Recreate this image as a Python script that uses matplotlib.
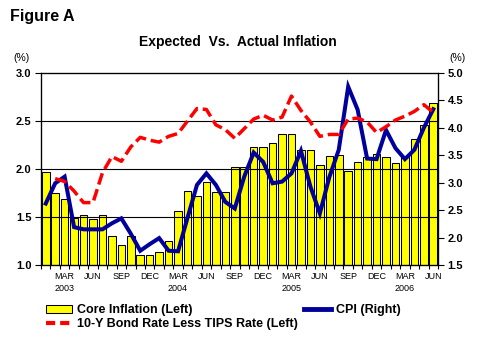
import numpy as np
import matplotlib
matplotlib.use("Agg")
import matplotlib.pyplot as plt
from matplotlib.patches import Patch
from matplotlib.lines import Line2D

plt.rcParams['font.family'] = ['Liberation Sans', 'DejaVu Sans']

# monthly data, Jan 2003 .. Jun 2006
core_inflation = [1.97, 1.75, 1.69, 1.49, 1.52, 1.48, 1.52, 1.30, 1.21, 1.30, 1.10, 1.10,
                  1.14, 1.25, 1.56, 1.77, 1.72, 1.86, 1.76, 1.76, 2.02, 2.02, 2.23, 2.23,
                  2.27, 2.36, 2.36, 2.20, 2.20, 2.04, 2.14, 2.15, 1.98, 2.07, 2.12, 2.16,
                  2.12, 2.06, 2.12, 2.31, 2.46, 2.69]
cpi = [2.62, 2.99, 3.11, 2.19, 2.15, 2.15, 2.15, 2.26, 2.35, 2.07, 1.76, 1.88,
       1.99, 1.76, 1.75, 2.36, 2.96, 3.17, 2.96, 2.65, 2.53, 3.11, 3.55, 3.38,
       2.99, 3.02, 3.17, 3.58, 2.93, 2.44, 3.10, 3.60, 4.75, 4.33, 3.44, 3.43,
       3.96, 3.63, 3.43, 3.60, 4.00, 4.34]
bond_less_tips = [np.nan, 1.90, 1.87, 1.77, 1.65, 1.65, 1.96, 2.13, 2.08, 2.23, 2.33, 2.30,
                  2.28, 2.34, 2.37, 2.50, 2.63, 2.62, 2.46, 2.41, 2.32, 2.42, 2.52, 2.56,
                  2.51, 2.54, 2.76, 2.61, 2.49, 2.34, 2.36, 2.36, 2.52, 2.53, 2.49, 2.38,
                  2.44, 2.51, 2.55, 2.60, 2.67, 2.59]
tick_labels = ['MAR\n2003', 'JUN', 'SEP', 'DEC',
               'MAR\n2004', 'JUN', 'SEP', 'DEC',
               'MAR\n2005', 'JUN', 'SEP', 'DEC',
               'MAR\n2006', 'JUN']
left_ticks = [1.0, 1.5, 2.0, 2.5, 3.0]
right_ticks = [1.5, 2.0, 2.5, 3.0, 3.5, 4.0, 4.5, 5.0]

YELLOW = '#FFFF00'
BLUE = '#00009C'
RED = '#FF0000'

x = np.arange(len(core_inflation))

fig = plt.figure(figsize=(4.8, 3.6), dpi=100)
ax = fig.add_axes([41/480, 1 - 265/360, 397/480, 192/360])

# bars (left axis) with grid on top of them
ax.bar(x, np.array(core_inflation) - 1.0, bottom=1.0, width=0.8,
       color=YELLOW, edgecolor='black', linewidth=0.75, zorder=2)
for g in left_ticks[1:-1]:
    ax.axhline(g, color='black', linewidth=0.8, zorder=3)
ax.set_xlim(-0.5, len(x) - 0.5)
ax.set_ylim(1.0, 3.0)
ax.set_yticks(left_ticks)
ax.set_yticklabels([f"{v:.1f}" for v in left_ticks], fontsize=8, fontweight='bold')
ax.set_xticks(np.arange(2, len(x), 3))
ax.set_xticklabels(tick_labels, fontsize=6.5, linespacing=1.5)
ax.set_xticks(np.arange(-0.5, len(x), 1), minor=True)
ax.tick_params(axis='x', which='major', length=0, pad=5)
ax.tick_params(axis='x', which='minor', length=3, width=0.8, direction='out')
ax.tick_params(axis='y', length=4, width=0.8, direction='out', pad=3)
for s in ax.spines.values():
    s.set_linewidth(0.9)

# CPI (right axis)
ax2 = ax.twinx()
ax2.plot(x, cpi, color=BLUE, linewidth=2.9, solid_joinstyle='miter')
ax2.set_ylim(1.5, 5.0)
ax2.set_yticks(right_ticks)
ax2.set_yticklabels([f"{v:.1f}" for v in right_ticks], fontsize=8, fontweight='bold')
ax2.tick_params(axis='y', length=4, width=0.8, direction='out', pad=3)

# bond rate less TIPS (left axis), drawn on top
ax3 = ax.twinx()
ax3.set_ylim(ax.get_ylim())
ax3.plot(x, bond_less_tips, color=RED, linewidth=2.5, dashes=(3.4, 1.4))
ax3.set_yticks([])
ax3.axis('off')

fig.text(10/480, 1 - 17/360, 'Figure A', fontsize=11.5, fontweight='bold', va='center')
fig.text(238/480, 1 - 42/360, 'Expected  Vs.  Actual Inflation', fontsize=10,
         fontweight='bold', ha='center', va='center')
fig.text(21/480, 1 - 58/360, '(%)', fontsize=7.5, ha='center', va='center')
fig.text(457/480, 1 - 58/360, '(%)', fontsize=7.5, ha='center', va='center')

handles = [Patch(facecolor=YELLOW, edgecolor='black', linewidth=0.75),
           Line2D([], [], color=RED, linewidth=3, dashes=(2.2, 1.2)),
           Line2D([], [], color=BLUE, linewidth=3.5)]
labels = ['Core Inflation (Left)', '10-Y Bond Rate Less TIPS Rate (Left)', 'CPI (Right)']
fig.legend(handles, labels, ncol=2, loc='upper left',
           bbox_to_anchor=(46/480, 1 - 304/360), frameon=False,
           prop={'size': 9, 'weight': 'bold'}, borderpad=0, borderaxespad=0,
           handlelength=2.1, handleheight=0.6, handletextpad=0.4,
           columnspacing=0.5, labelspacing=0.15)

fig.savefig('out.png', dpi=100)
